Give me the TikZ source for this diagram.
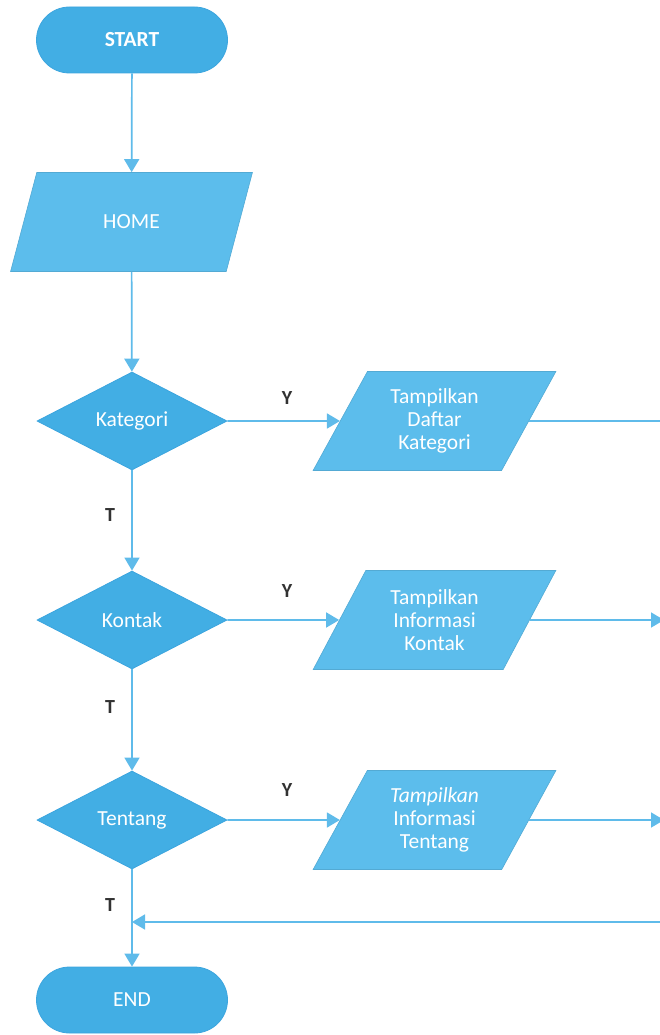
\documentclass[tikz,border=0pt]{standalone}
\usepackage{fontspec}
\setmainfont{Carlito}
\usetikzlibrary{shapes.geometric,shapes.misc,arrows.meta}
\definecolor{termfill}{RGB}{66,174,228}
\definecolor{parafill}{RGB}{92,189,236}
\definecolor{edgeblue}{RGB}{60,165,222}
\definecolor{lineblue}{RGB}{95,187,234}
\definecolor{lbltext}{RGB}{50,50,50}
\tikzset{
  txt/.style={text=white,font=\fontsize{21.5}{23}\selectfont,align=center,inner sep=0pt},
  term/.style={txt,rounded rectangle,fill=termfill,draw=edgeblue,line width=0.8pt,minimum width=191pt,minimum height=66pt},
  para/.style={txt,trapezium,trapezium left angle=61,trapezium right angle=119,trapezium stretches=true,fill=parafill,draw=parafill!90!black,line width=0.6pt,minimum width=243pt,minimum height=99pt},
  dec/.style={txt,diamond,fill=termfill,draw=edgeblue,line width=0.8pt,minimum width=190pt,minimum height=98pt},
  conn/.style={draw=lineblue,line width=1.7pt},
  arr/.style={conn,-{Triangle[length=13pt,width=15pt]}},
  lbl/.style={text=lbltext,font=\fontsize{20}{21}\selectfont\bfseries,inner sep=0pt}
}
\begin{document}
\begin{tikzpicture}[x=1pt,y=-1pt]
\useasboundingbox (0,0) rectangle (660,1035);
\node[term] (start) at (132,40) {\textbf{START}};
\node[para] (home) at (131.5,222) {HOME};
\node[dec] (kat) at (132,421) {Kategori};
\node[dec] (kon) at (132,620) {Kontak};
\node[dec] (ten) at (132,820) {Tentang};
\node[term] (end) at (132,1000) {END};
\node[para] (pkat) at (434.5,421) {Tampilkan\\Daftar\\Kategori};
\node[para] (pkon) at (434.5,620) {Tampilkan\\Informasi\\Kontak};
\node[para] (pten) at (434.5,820) {\textit{Tampilkan}\\Informasi\\Tentang};
\coordinate (o1) at (661,421);
\coordinate (o2) at (664,620);
\coordinate (o3) at (664,820);
\coordinate (rt) at (661,922);
\coordinate (jn) at (132,922);
\node[lbl] (y1) at (287,398) {Y};
\node[lbl] (y2) at (287,591) {Y};
\node[lbl] (y3) at (287,790) {Y};
\node[lbl] (t1) at (110,515) {T};
\node[lbl] (t2) at (110,707) {T};
\node[lbl] (t3) at (110,905) {T};
\draw[arr] (start) -- (home);
\draw[arr] (home) -- (kat);
\draw[arr] (kat) -- (kon);
\draw[arr] (kon) -- (ten);
\draw[arr] (ten) -- (end);
\draw[arr] (kat) -- (pkat);
\draw[arr] (kon) -- (pkon);
\draw[arr] (ten) -- (pten);
\draw[conn] (pkat) -- (o1);
\draw[arr] (pkon) -- (o2);
\draw[arr] (pten) -- (o3);
\draw[arr] (rt) -- (jn);
\end{tikzpicture}
\end{document}
